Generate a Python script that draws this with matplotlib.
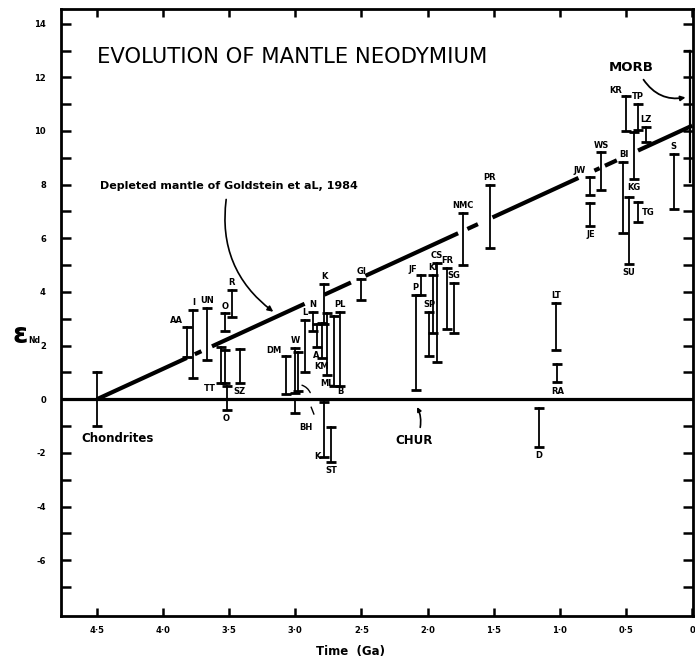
"""Evolution of mantle neodymium: eNd vs time with sample ranges."""
import matplotlib
matplotlib.use("Agg")
import matplotlib.pyplot as plt
import numpy as np

plt.rcParams.update({
    "font.family": "DejaVu Sans",
    "font.weight": "bold",
    "axes.linewidth": 2.0,
})

# sample ranges: age (Ga), eNd low, eNd high, label
bar_age = [4.50, 3.82, 3.77, 3.67, 3.53, 3.48, 3.56, 3.53, 3.52, 3.42,
           3.07, 3.00, 3.00, 2.98, 2.93, 2.87, 2.84, 2.80, 2.78, 2.76,
           2.71, 2.66, 2.78, 2.73, 2.50, 2.09, 2.05, 1.99, 1.96, 1.93,
           1.85, 1.80, 1.73, 1.53, 1.03, 1.02, 1.16, 0.77, 0.77, 0.69,
           0.52, 0.50, 0.48, 0.44, 0.41, 0.41, 0.35, 0.14]
bar_lo = [-1.00, 1.57, 0.78, 1.46, 2.54, 3.06, 0.62, 0.62, -0.40, 0.60,
          0.20, 0.25, -0.50, 0.30, 1.00, 2.55, 1.95, 1.55, 2.80, 0.90,
          0.50, 0.50, -2.15, -2.35, 3.70, 0.35, 3.90, 1.63, 2.46, 1.40,
          2.60, 2.46, 5.00, 5.63, 1.83, 0.63, -1.78, 7.60, 6.45, 7.80,
          6.20, 10.00, 5.04, 8.20, 10.04, 6.60, 9.60, 7.10]
bar_hi = [1.00, 2.70, 3.32, 3.40, 3.20, 4.07, 1.94, 1.83, 0.50, 1.86,
          1.60, 1.90, 0.00, 1.75, 2.95, 3.25, 2.80, 2.85, 4.30, 3.20,
          3.10, 3.25, -0.10, -1.05, 4.50, 3.90, 4.63, 3.25, 4.63, 5.07,
          4.90, 4.33, 6.95, 8.00, 3.58, 1.30, -0.34, 8.30, 7.30, 9.20,
          8.85, 11.30, 7.55, 9.96, 11.00, 7.35, 10.15, 9.15]
bar_label = ["", "AA", "I", "UN", "O", "R", "TT", "", "O", "SZ",
             "DM", "W", "", "", "L", "N", "A", "KM", "K", "ML",
             "", "PL", "K", "ST", "GI", "P", "JF", "SP", "KI", "CS",
             "FR", "SG", "NMC", "PR", "LT", "RA", "D", "JW", "JE", "WS",
             "BI", "KR", "SU", "KG", "TP", "TG", "LZ", "S"]

# depleted mantle line (Goldstein et al. 1984), drawn in pieces
dm_age = [4.5, 0.0]
dm_end = [0.0, 10.2]
dm_pieces = [(4.50, 3.82), (3.76, 3.71), (3.63, 2.93), (2.78, 2.58),
             (2.47, 1.77), (1.70, 1.62), (1.51, 0.86), (0.74, 0.70),
             (0.66, 0.57), (0.41, 0.0)]

morb_age = 0.015
morb_lo, morb_hi = 8.1, 13.0

x_ticks = [4.5, 4.0, 3.5, 3.0, 2.5, 2.0, 1.5, 1.0, 0.5, 0.0]
x_ticklabels = ["4\u00b75", "4\u00b70", "3\u00b75", "3\u00b70", "2\u00b75",
                "2\u00b70", "1\u00b75", "1\u00b70", "0\u00b75", "0"]
y_ticks = [-6, -4, -2, 0, 2, 4, 6, 8, 10, 12, 14]

# where each label sits relative to its bar
label_side = ["", "ul", "a", "a", "a", "a", "bl", "", "b", "b",
              "ul", "a", "", "", "a", "a", "b", "b", "a", "b",
              "", "a", "l", "b", "a", "a", "ul", "a", "a", "a",
              "a", "a", "a", "a", "a", "b", "b", "ul", "b", "a",
              "a", "ul", "b", "b", "a", "r", "a", "a"]

fig = plt.figure(figsize=(6.95, 6.62), dpi=100)
ax = fig.add_axes([0.088, 0.0695, 0.909, 0.917])
ax.set_xlim(4.77, -0.005)
ax.set_ylim(-8.08, 14.55)

# CHUR reference
ax.axhline(0, color="black", lw=2.3, zorder=2)

# depleted mantle
for a0, a1 in dm_pieces:
    xs = np.array([a0, a1])
    ys = np.interp(xs, dm_age[::-1], dm_end[::-1])
    ax.plot(xs, ys, color="black", lw=3.0, solid_capstyle="butt", zorder=3)

# sample bars
for t, lo, hi in zip(bar_age, bar_lo, bar_hi):
    ax.plot([t, t], [lo, hi], color="black", lw=1.3, zorder=4)
    ax.plot([t, t], [lo, hi], ls="none", marker="_", ms=7, mew=2.0,
            color="black", zorder=4)

offsets = {"a": ((0, 2), "center", "bottom"),
           "b": ((0, -3), "center", "top"),
           "ul": ((-3, 1), "right", "bottom"),
           "bl": ((-4, -1), "right", "top"),
           "l": ((-3, 0), "right", "center"),
           "r": ((3, 0), "left", "center")}
for t, lo, hi, lab, side in zip(bar_age, bar_lo, bar_hi, bar_label, label_side):
    if not lab:
        continue
    (dx, dy), ha, va = offsets[side]
    y = lo if side in ("b", "bl", "l") else hi
    if side == "r":
        y = 0.5 * (lo + hi)
    ax.annotate(lab, (t, y), xytext=(dx, dy), textcoords="offset points",
                ha=ha, va=va, fontsize=6, fontweight="bold")
ax.annotate("B", (2.66, 0.5), xytext=(0, -1), textcoords="offset points",
            ha="center", va="top", fontsize=6, fontweight="bold")

# MORB bracket
ax.plot([morb_age, morb_age], [morb_lo, morb_hi], color="black", lw=1.6,
        zorder=4)
ax.plot([morb_age + 0.04, morb_age], [morb_hi, morb_hi], color="black",
        lw=1.6)
ax.text(0.46, 12.35, "MORB", fontsize=9.5, fontweight="bold",
        ha="center", va="center")
ax.annotate("", xy=(0.03, 11.27), xytext=(0.38, 12.0),
            arrowprops=dict(arrowstyle="-|>", color="black", lw=1.3,
                            mutation_scale=7,
                            connectionstyle="arc3,rad=0.35"))

# text and arrows
ax.text(4.5, 12.76, "EVOLUTION OF MANTLE NEODYMIUM", fontsize=15.2,
        fontweight="normal", ha="left", va="center")
ax.text(4.48, 7.95, "Depleted mantle of Goldstein et aL, 1984",
        fontsize=8, fontweight="bold", ha="left", va="center")
ax.annotate("", xy=(3.15, 3.2), xytext=(3.52, 7.55),
            arrowprops=dict(arrowstyle="-|>", color="black", lw=1.2,
                            mutation_scale=8,
                            connectionstyle="arc3,rad=0.3"))
ax.text(4.62, -1.45, "Chondrites", fontsize=8.5, fontweight="bold",
        ha="left", va="center")
ax.text(2.1, -1.55, "CHUR", fontsize=8.5, fontweight="bold",
        ha="center", va="center")
ax.annotate("", xy=(2.09, -0.2), xytext=(2.06, -1.15),
            arrowprops=dict(arrowstyle="-|>", color="black", lw=1.2,
                            mutation_scale=6,
                            connectionstyle="arc3,rad=0.2"))
ax.text(2.92, -1.05, "BH", fontsize=6, fontweight="bold",
        ha="center", va="center")
ax.annotate("", xy=(2.97, 0.55), xytext=(2.88, 0.15),
            arrowprops=dict(arrowstyle="-", color="black", lw=1.0,
                            connectionstyle="arc3,rad=0.3"))
ax.plot([2.88, 2.86], [-0.3, -0.55], color="black", lw=1.0)

# axes and ticks
ax.set_xticks(x_ticks)
ax.set_xticklabels(x_ticklabels)
ax.set_yticks(y_ticks)
ax.set_yticklabels([str(v) for v in y_ticks])
ax.set_yticks(np.arange(-7, 15, 2), minor=True)
ax.tick_params(which="both", direction="in", length=6, width=1.8,
               top=True, right=True, labelsize=6, pad=7)
ax.tick_params(axis="y", which="both", length=7, pad=11)
for lab in ax.get_xticklabels() + ax.get_yticklabels():
    lab.set_fontweight("bold")

fig.text(0.029, 1 - 335 / 662, "\u03b5", fontsize=20, fontweight="bold",
         ha="center", va="center")
fig.text(0.041, 1 - 340 / 662, "Nd", fontsize=5.5, fontweight="bold",
         ha="left", va="center")
fig.text(0.505, 1 - 652 / 662, "Time  (Ga)", fontsize=8.5,
         fontweight="bold", ha="center", va="center")

fig.savefig("out.png", dpi=100)
